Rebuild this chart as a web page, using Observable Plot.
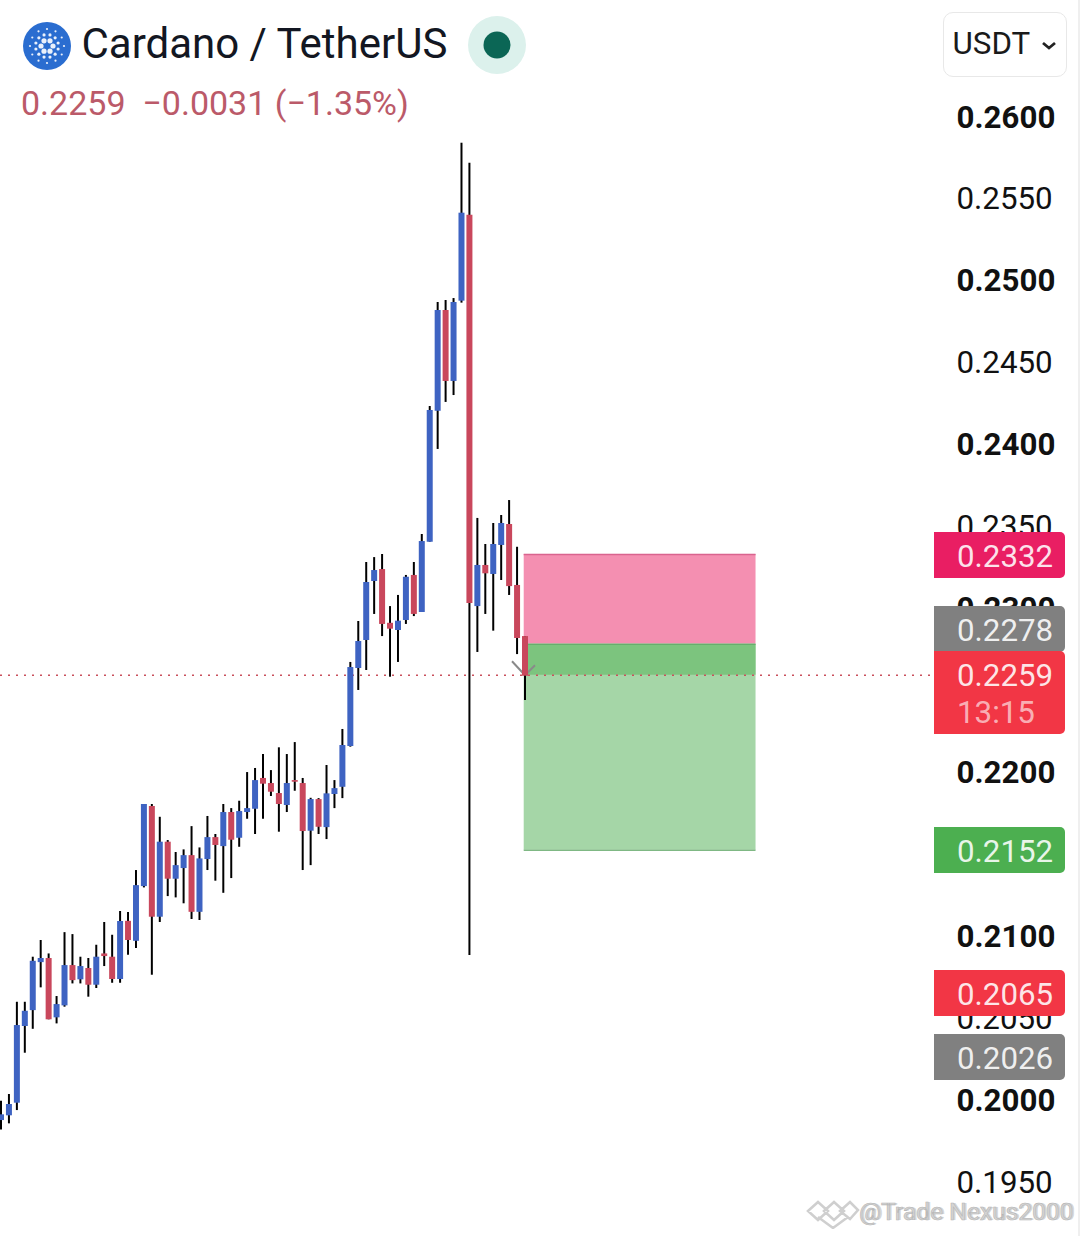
<!DOCTYPE html>
<html><head><meta charset="utf-8">
<script src="https://cdn.jsdelivr.net/npm/d3@7"></script>
<script src="https://cdn.jsdelivr.net/npm/@observablehq/plot@0.6"></script>
<style>
html,body{margin:0;padding:0;background:#fff}
#wrap{position:relative;width:1080px;height:1236px;overflow:hidden;font-family:Roboto,sans-serif;background:#fff}
#chart{position:absolute;left:0;top:0}
.abs{position:absolute;white-space:pre;line-height:1}
.badge{position:absolute;left:934px;width:131px;border-radius:0 5px 5px 0;box-sizing:border-box;padding-left:23px;font-size:31.3px;color:rgba(255,255,255,.88);line-height:50px}
</style></head>
<body>
<div id="wrap"><div id="chart"></div></div>
<script>
const opens  = [.19878,.19907,.19984,.20452,.20549,.20842,.20867,.20505,.20578,.20824,.20737,.20806,.20704,.20895,.20875,.20739,.21094,.20972,.21306,.21795,.21119,.21577,.21351,.21416,.21495,.21149,.21471,.21605,.21550,.21758,.21601,.21758,.21778,.21966,.21935,.21874,.21801,.21953,.21935,.21644,.21837,.21666,.21868,.21912,.22161,.22637,.22808,.23168,.23241,.22913,.22869,.22930,.23205,.22979,.23408,.24207,.24822,.24389,.24879,.25404,.23015,.23266,.23211,.23388,.23516,.23144,.22832];
const closes = [.19913,.19976,.20458,.20545,.20850,.20867,.20493,.20586,.20824,.20732,.20818,.20704,.20875,.20879,.20739,.21093,.20977,.21312,.21807,.21119,.21577,.21351,.21434,.21495,.21149,.21475,.21605,.21557,.21758,.21589,.21764,.21782,.21953,.21931,.21882,.21807,.21935,.21943,.21642,.21837,.21668,.21872,.21904,.22167,.22643,.22802,.23162,.23235,.22906,.22877,.22926,.23194,.22967,.23412,.24212,.24822,.24389,.24871,.25416,.23034,.23266,.23215,.23394,.23522,.23137,.22820,.22590];
const highs  = [.19996,.20037,.20600,.20600,.20875,.20977,.20895,.20635,.21025,.21013,.20875,.20867,.20948,.21087,.21009,.21154,.21148,.21404,.21807,.21807,.21729,.21587,.21514,.21530,.21672,.21542,.21734,.21624,.21807,.21782,.21827,.22002,.22027,.22112,.22014,.22153,.22112,.22185,.21966,.21845,.21843,.22045,.21953,.22265,.22674,.22924,.23284,.23314,.23333,.23015,.23083,.23205,.23284,.23455,.24236,.24871,.24883,.24895,.25843,.25721,.23553,.23394,.23522,.23571,.23662,.23377,.22832];
const lows   = [.19821,.19858,.19939,.20289,.20435,.20688,.20493,.20468,.20570,.20712,.20712,.20631,.20684,.20818,.20716,.20716,.20887,.20928,.21298,.20765,.21087,.21245,.21237,.21201,.21105,.21099,.21404,.21339,.21265,.21355,.21546,.21717,.21624,.21717,.21856,.21638,.21758,.21888,.21404,.21434,.21624,.21593,.21782,.21843,.22157,.22503,.22625,.22967,.22832,.22584,.22674,.22906,.22954,.22979,.23408,.23974,.24261,.24303,.24867,.20885,.22735,.22967,.22865,.23174,.23083,.22722,.22442];
const boldTicks = [.26,.25,.24,.23,.22,.21,.20];
const lightTicks = [.255,.245,.235,.225,.215,.205,.195];
const lastPrice = .22596, stopPrice = .23333, entryPrice = .22785, targetPrice = .21528;
const positionStart = 65.9, positionEnd = 95.1;
const badgeValues = [.2332,.2278,.2259,.2152,.2065,.2026];
const badgeColors = ["#e91e63","#808080","#f23645","#4caf50","#f23645","#808080"];
const badgeShift  = [-1,-15,-1,-1,0,0];
const badgeExtra  = ["","","13:15","","",""];

const candles = opens.map((o,i)=>({i,o,c:closes[i],h:highs[i],l:lows[i],up:closes[i]>=o}));
const blue="#3e63c2", red="#c9475c", ink="#111";
const chevron = {draw(ctx){ctx.moveTo(-13,-14);ctx.lineTo(0,0);ctx.lineTo(10,-10);}};

const chart = Plot.plot({
  width:1080,height:1236,marginLeft:0,marginTop:0,marginBottom:0,marginRight:124,
  style:{fontFamily:"Roboto,sans-serif",background:"#fff",overflow:"visible"},
  x:{domain:[0,66],range:[0.5,524.5],axis:null},
  y:{domain:[.195,.26],range:[1182,117]},
  marks:[
    Plot.axisY(lightTicks,{anchor:"right",tickSize:0,tickPadding:0,textAnchor:"start",tickFormat:d3.format(".4f"),fontSize:31.3,fill:ink,label:null}),
    Plot.axisY(boldTicks,{anchor:"right",tickSize:0,tickPadding:0,textAnchor:"start",tickFormat:d3.format(".4f"),fontSize:31.3,fontWeight:700,fill:ink,label:null}),
    Plot.rect([0],{x1:positionStart,x2:positionEnd,y1:entryPrice,y2:stopPrice,fill:"#f48fb1"}),
    Plot.rect([0],{x1:positionStart,x2:positionEnd,y1:targetPrice,y2:entryPrice,fill:"#a5d6a7"}),
    Plot.rect([0],{x1:positionStart,x2:positionEnd,y1:lastPrice,y2:entryPrice,fill:"#7cc47e"}),
    Plot.ruleY([stopPrice],{x1:positionStart,x2:positionEnd,stroke:"#d9648f",strokeWidth:1.5}),
    Plot.ruleY([entryPrice],{x1:positionStart,x2:positionEnd,stroke:"#5fa868",strokeWidth:1}),
    Plot.ruleY([targetPrice],{x1:positionStart,x2:positionEnd,stroke:"#7fb884",strokeWidth:1.5}),
    Plot.ruleY([lastPrice],{stroke:"#c9505c",strokeWidth:1.5,strokeDasharray:"2 6"}),
    Plot.dot([lastPrice],{x:()=>66,y:d=>d,symbol:chevron,r:1,fill:"none",stroke:"#8a8a8a",strokeWidth:2}),
    Plot.ruleX(candles,{x:"i",y1:"l",y2:"h",stroke:"#000",strokeWidth:2}),
    Plot.ruleX(candles,{x:"i",y1:"o",y2:"c",stroke:d=>d.up?blue:red,strokeWidth:6})
  ]
});
const wrap=document.getElementById("wrap");
document.getElementById("chart").append(chart);
const yS=chart.scale("y");
function add(html,css,cls){const e=document.createElement("div");e.className=cls||"abs";e.innerHTML=html;e.style.cssText+=css;wrap.append(e);return e;}

// header
let dots="";
[[6,6,2.6],[11.5,12,1.6],[17,12,1.1]].forEach(([rad,n,r],k)=>{for(const j of d3.range(n)){const a=(j+(k%2?.5:0))/n*2*Math.PI;dots+=`<circle cx="${24+rad*Math.cos(a)}" cy="${24+rad*Math.sin(a)}" r="${r}" fill="#fff" opacity=".9"/>`;}});
add(`<svg width="48" height="48"><circle cx="24" cy="24" r="24" fill="#2a6dd0"/>${dots}</svg>`,"left:23px;top:22px;");
add("Cardano / TetherUS","left:81.5px;top:23px;font-size:42px;color:#131722;");
add(`<svg width="58" height="58"><circle cx="29" cy="29" r="29" fill="#dcf1ec"/><circle cx="29" cy="29" r="13.5" fill="#0b6655"/></svg>`,"left:468px;top:16px;");
add("0.2259  −0.0031 (−1.35%)","left:21px;top:85.5px;font-size:34px;color:#bb5a69;");
add("","left:943px;top:12px;width:124px;height:65px;border:1.5px solid #e8e8e8;border-radius:10px;box-sizing:border-box;");
add("USDT","left:952.5px;top:28px;font-size:31.3px;color:#1a1a1a;");
add(`<svg width="16" height="10"><path d="M2 2 L8 7 L14 2" fill="none" stroke="#222" stroke-width="2.8"/></svg>`,"left:1041px;top:38px;");
add("","left:1078px;top:0;width:2px;height:1236px;background:#efefef;");

// price badges
badgeValues.forEach((v,i)=>{
  const h=badgeExtra[i]?83:46;
  const top=yS.apply(v)-23.5+badgeShift[i];
  const inner=d3.format(".4f")(v)+(badgeExtra[i]?`<div style="margin-top:-13px;color:rgba(255,255,255,.62)">${badgeExtra[i]}</div>`:"");
  add(inner,`top:${top}px;height:${h}px;background:${badgeColors[i]};`,"badge");
});

// watermark
add(`<svg width="54" height="32" fill="none" stroke="#cfcfcf" stroke-width="2.5"><path d="M2 14 L12 5 L22 14 L12 23 Z M18 14 L28 5 L38 14 L28 23 Z M34 14 L44 5 L52 13 L44 22 Z M12 20 L27 31 L42 20"/></svg>`,"left:806px;top:1197px;");
add("@Trade Nexus2000","left:859px;top:1200px;font-size:24.6px;color:#d4d4d4;-webkit-text-stroke:.6px #b5b5b5;text-shadow:2px 0 0 rgba(180,180,180,.55);");
</script>
</body></html>
